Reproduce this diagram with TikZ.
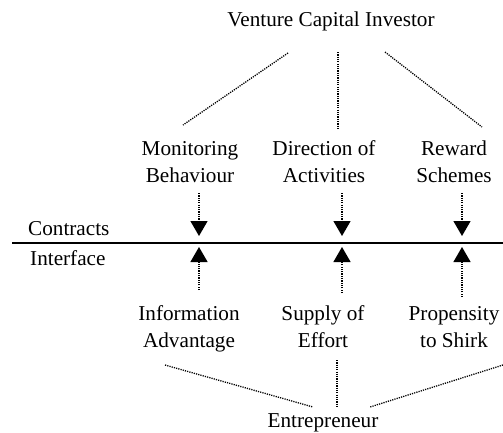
\documentclass[tikz,border=0pt]{standalone}
\usepackage{fontspec}
\setmainfont{Liberation Serif}
\usetikzlibrary{arrows.meta}
\begin{document}
\begin{tikzpicture}[x=1pt,y=-1pt,
  lbl/.style={inner sep=0pt,anchor=base,align=center,font=\fontsize{21.2}{26.5}\selectfont},
  dotline/.style={line width=1.3pt,dash pattern=on 1.2pt off 1.1pt},
  dotarrow/.style={dotline,-{Triangle[width=17pt,length=15pt]}}]
\useasboundingbox (0,0) rectangle (503,432);
% labels
\node[lbl] (inv) at (331,26) {Venture Capital Investor};
\node[lbl] (mon) at (190,182) {Monitoring\\Behaviour};
\node[lbl] (dir) at (324,182) {Direction of\\Activities};
\node[lbl] (rew) at (454,182) {Reward\\Schemes};
\node[lbl] (inf) at (189,347) {Information\\Advantage};
\node[lbl] (sup) at (323,347) {Supply of\\Effort};
\node[lbl] (pro) at (454,347) {Propensity\\to Shirk};
\node[lbl] (ent) at (323,427) {Entrepreneur};
\node[lbl,anchor=base west] (con) at (28,235) {Contracts};
\node[lbl,anchor=base west] (int) at (30,265) {Interface};
% interface line
\coordinate (lineL) at (12,243);
\coordinate (lineR) at (503,243);
\draw[line width=2pt] (lineL) -- (lineR);
% investor links
\coordinate (i1) at (288,53); \coordinate (m1) at (183,125);
\coordinate (i2) at (338,52); \coordinate (m2) at (338,128);
\coordinate (i3) at (385,52); \coordinate (m3) at (482,127);
\draw[dotline] (i1) -- (m1);
\draw[dotline] (i2) -- (m2);
\draw[dotline] (i3) -- (m3);
% contract arrows
\coordinate (d1) at (199,193); \coordinate (t1) at (199,236);
\coordinate (d2) at (342,193); \coordinate (t2) at (342,236);
\coordinate (d3) at (462,193); \coordinate (t3) at (462,236);
\draw[dotarrow] (d1) -- (t1);
\draw[dotarrow] (d2) -- (t2);
\draw[dotarrow] (d3) -- (t3);
% interface arrows
\coordinate (u1) at (199,290); \coordinate (b1) at (199,247);
\coordinate (u2) at (342,293); \coordinate (b2) at (342,247);
\coordinate (u3) at (462,297); \coordinate (b3) at (462,247);
\draw[dotarrow] (u1) -- (b1);
\draw[dotarrow] (u2) -- (b2);
\draw[dotarrow] (u3) -- (b3);
% entrepreneur links
\coordinate (f1) at (165,365); \coordinate (e1) at (313,407);
\coordinate (f2) at (337,360); \coordinate (e2) at (337,407);
\coordinate (f3) at (503,365); \coordinate (e3) at (370,407);
\draw[dotline] (f1) -- (e1);
\draw[dotline] (f2) -- (e2);
\draw[dotline] (f3) -- (e3);
\end{tikzpicture}
\end{document}
